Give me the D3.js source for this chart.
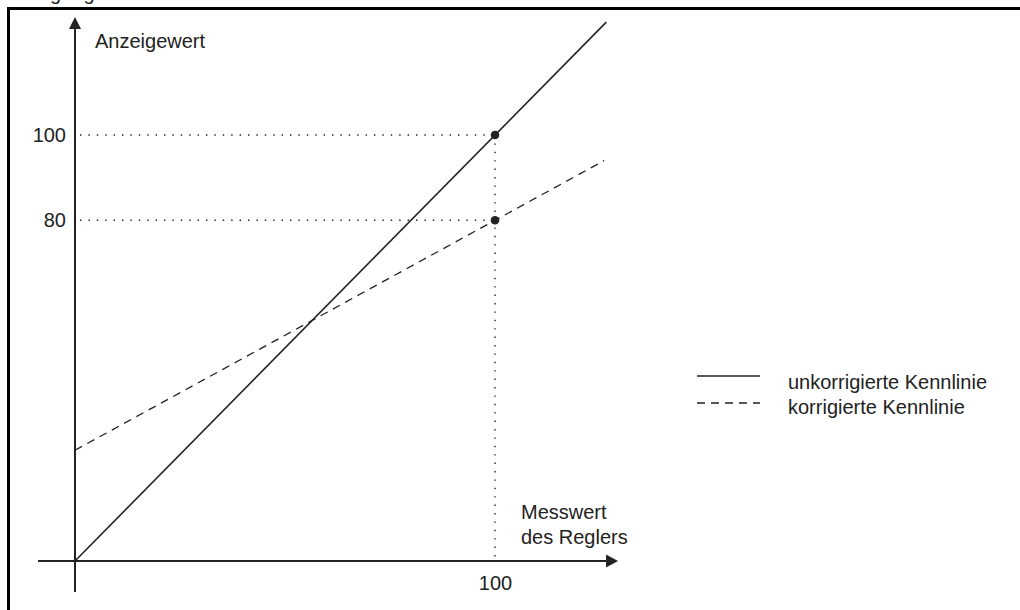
<!DOCTYPE html>
<html>
<head>
<meta charset="utf-8">
<script src="https://cdn.jsdelivr.net/npm/d3@7"></script>
<style>
  html, body { margin: 0; padding: 0; background: #fff; }
  svg { display: block; }
  text { font-family: "Liberation Sans", Arial, Helvetica, sans-serif; fill: #222; }
</style>
</head>
<body>
<svg id="chart" width="1020" height="610"></svg>
<script>
// ---- data ----
const titleText = "Steigung";
const yAxisTitle = "Anzeigewert";
const xAxisTitle = ["Messwert", "des Reglers"];
const xTickValues = [100];
const yTickValues = [80, 100];
const uncorrectedX = [0, 126.5];
const uncorrectedY = [0, 126.5];
const correctedX = [0, 126];
const correctedY = [26, 94];
const markerX = [100, 100];
const markerY = [100, 80];
const legendLabels = ["unkorrigierte Kennlinie", "korrigierte Kennlinie"];
const legendDash = [null, "8,6"];

// ---- layout ----
const svg = d3.select("#chart");
const x = d3.scaleLinear().domain([0, 100]).range([75, 495]);
const y = d3.scaleLinear().domain([0, 100]).range([561, 135]);
const ink = "#222";

// frame (partially visible)
svg.append("rect").attr("x", 8.5).attr("y", 8.5).attr("width", 1100).attr("height", 700)
  .attr("fill", "none").attr("stroke", "#000").attr("stroke-width", 3);

// cut-off title above frame
svg.append("text").attr("x", 15.6).attr("y", 0).attr("font-size", 20).text(titleText);

// dotted guide lines
const dotted = svg.append("g").attr("stroke", ink).attr("stroke-width", 1.4)
  .attr("stroke-dasharray", "1.4,7").attr("fill", "none");
yTickValues.forEach(v => {
  dotted.append("line").attr("x1", x(0) + 5).attr("x2", x(100)).attr("y1", y(v)).attr("y2", y(v));
});
xTickValues.forEach(v => {
  dotted.append("line").attr("x1", x(v)).attr("x2", x(v)).attr("y1", y(100)).attr("y2", y(0) - 2);
});

// axes lines with arrows
const axisG = svg.append("g");
axisG.append("line").attr("x1", x(-8.8)).attr("x2", x(126.5)).attr("y1", y(0)).attr("y2", y(0))
  .attr("stroke", ink).attr("stroke-width", 2);
axisG.append("line").attr("x1", x(0)).attr("x2", x(0)).attr("y1", y(-7.3)).attr("y2", y(125.5))
  .attr("stroke", ink).attr("stroke-width", 2);
// arrowheads
const xTip = x(129.3), yTip = y(127.7);
axisG.append("path").attr("d", `M${xTip},${y(0)} L${xTip - 12},${y(0) - 6.5} L${xTip - 12},${y(0) + 6.5} Z`).attr("fill", ink);
axisG.append("path").attr("d", `M${x(0)},${yTip} L${x(0) - 6},${yTip + 12} L${x(0) + 6},${yTip + 12} Z`).attr("fill", ink);

// tick labels via d3 axes (no tick marks)
const xAxis = svg.append("g").attr("transform", `translate(0,${y(0)})`)
  .call(d3.axisBottom(x).tickValues(xTickValues).tickSize(0).tickPadding(15).tickFormat(d3.format("d")));
const yAxis = svg.append("g").attr("transform", `translate(${x(0)},0)`)
  .call(d3.axisLeft(y).tickValues(yTickValues).tickSize(0).tickPadding(9).tickFormat(d3.format("d")));
[xAxis, yAxis].forEach(a => {
  a.select(".domain").remove();
  a.selectAll("text").attr("font-size", 20).attr("font-family", '"Liberation Sans", Arial, sans-serif').attr("fill", ink);
});

// axis titles
svg.append("text").attr("x", 95).attr("y", 48).attr("font-size", 20).text(yAxisTitle);
svg.append("text").attr("x", 521).attr("y", 519).attr("font-size", 20).text(xAxisTitle[0]);
svg.append("text").attr("x", 521).attr("y", 544).attr("font-size", 20).text(xAxisTitle[1]);

// lines
const line = d3.line().x(d => x(d[0])).y(d => y(d[1]));
svg.append("path").datum(d3.zip(uncorrectedX, uncorrectedY)).attr("d", line)
  .attr("fill", "none").attr("stroke", ink).attr("stroke-width", 1.6);
svg.append("path").datum(d3.zip(correctedX, correctedY)).attr("d", line)
  .attr("fill", "none").attr("stroke", ink).attr("stroke-width", 1.3).attr("stroke-dasharray", "8,6");

// markers
svg.selectAll("circle.m").data(d3.zip(markerX, markerY)).enter().append("circle")
  .attr("class", "m").attr("cx", d => x(d[0])).attr("cy", d => y(d[1])).attr("r", 4.3).attr("fill", ink);

// legend
const lg = svg.append("g");
legendLabels.forEach((lab, i) => {
  const ly = 376 + i * 27;
  lg.append("line").attr("x1", 697).attr("x2", 760).attr("y1", ly).attr("y2", ly)
    .attr("stroke", ink).attr("stroke-width", 1.3).attr("stroke-dasharray", legendDash[i]);
  lg.append("text").attr("x", 788).attr("y", 389 + i * 25).attr("font-size", 20).text(lab);
});
</script>
</body>
</html>
